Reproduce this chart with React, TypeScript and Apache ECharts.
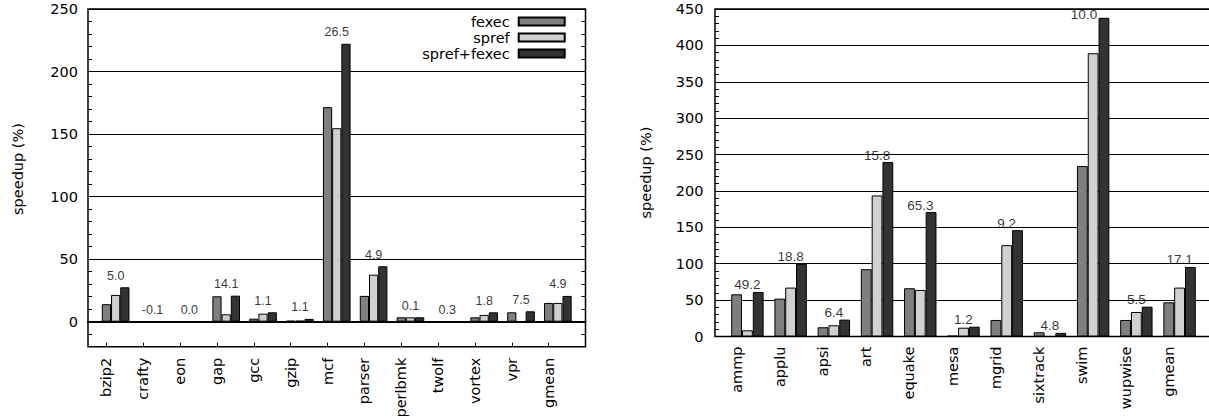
import React, { useEffect, useRef } from 'react';
import * as echarts from 'echarts';

// ---------- data ----------
const seriesNames = ['fexec', 'spref', 'spref+fexec'];

const intCategories = ['bzip2', 'crafty', 'eon', 'gap', 'gcc', 'gzip', 'mcf', 'parser', 'perlbmk', 'twolf', 'vortex', 'vpr', 'gmean'];
const intFexec = [14, 0, 0, 20.3, 2.4, 0.8, 171.5, 20.6, 3.5, 0, 3.5, 7.5, 15];
const intSpref = [21.4, 0, 0, 5.9, 6.4, 0.8, 154.7, 37.6, 3.5, 0, 5.4, 0, 15];
const intBoth = [27.5, 0, 0, 20.8, 7.5, 2.2, 222.2, 44.3, 3.5, 0, 7.5, 8.3, 20.6];
const intLabels = ['5.0', '-0.1', '0.0', '14.1', '1.1', '1.1', '26.5', '4.9', '0.1', '0.3', '1.8', '7.5', '4.9'];

const fpCategories = ['ammp', 'applu', 'apsi', 'art', 'equake', 'mesa', 'mgrid', 'sixtrack', 'swim', 'wupwise', 'gmean'];
const fpFexec = [58, 52, 12.7, 92.5, 66.3, 1, 22.7, 5.8, 234.2, 22.7, 47];
const fpSpref = [8.5, 67.2, 15.4, 193.8, 64, 12.1, 125.5, 0, 389.2, 33.7, 67.2];
const fpBoth = [61.2, 99.8, 23.2, 239.7, 170.9, 13.5, 146.1, 5, 437.9, 41, 95.6];
const fpLabels = ['49.2', '18.8', '6.4', '15.8', '65.3', '1.2', '9.2', '4.8', '10.0', '5.5', '17.1'];

const yTitle = 'speedup (%)';

// ---------- styles ----------
const barColors = ['#7f7f7f', '#d0d0d0', '#333333'];
const AXIS_TEXT = { fontFamily: 'DejaVu Sans', fontSize: 14.5, color: '#000000' };

type PanelCfg = {
  left: number; top: number; width: number; height: number;
  cats: string[]; fexec: number[]; spref: number[]; both: number[]; labels: string[];
  yMin: number; yMax: number;
  zeroLine: boolean; xTicks: boolean; rightTicks: boolean;
  yLabelMargin: number; xLabelMargin: number;
  labelFont: number; labelDist: number;
  specialLeft?: string;
};

function panel(cfg: PanelCfg, g0: number, x0: number, y0: number) {
  const n = cfg.cats.length;
  const band = cfg.width / (n + 0.5);
  const bw = band / 4;
  const innerW = band * n;
  const base = { top: cfg.top, height: cfg.height, outerBoundsMode: 'none', containLabel: false };
  const grids = [
    { ...base, left: cfg.left, width: cfg.width, show: true, borderColor: '#000', borderWidth: 1.5, backgroundColor: 'transparent' },
    { ...base, left: cfg.left, width: innerW },
    { ...base, left: cfg.left + bw, width: innerW },
  ];
  const xAxes: any[] = [
    {
      gridIndex: g0, type: 'category', data: [''], position: 'bottom',
      show: cfg.zeroLine,
      axisLine: { show: true, onZero: true, lineStyle: { color: '#000', width: 2 } },
      axisTick: { show: false }, axisLabel: { show: false }, splitLine: { show: false },
    },
    {
      gridIndex: g0 + 1, type: 'category', data: cfg.cats, position: 'bottom',
      axisLine: { show: false, onZero: false },
      axisTick: { show: cfg.xTicks, alignWithLabel: true, inside: true, length: 4, lineStyle: { color: '#000', width: 1 } },
      axisLabel: { ...AXIS_TEXT, rotate: 90, margin: cfg.xLabelMargin, interval: 0 },
      splitLine: { show: false },
    },
    { gridIndex: g0 + 2, type: 'category', data: cfg.cats, position: 'bottom', show: false, axisLine: { onZero: false } },
  ];
  const yAxes: any[] = [
    {
      gridIndex: g0, type: 'value', position: 'left', min: cfg.yMin, max: cfg.yMax,
      minInterval: 50, maxInterval: 50,
      axisLine: { show: false }, axisTick: { show: false },
      axisLabel: { ...AXIS_TEXT, margin: cfg.yLabelMargin, showMinLabel: cfg.yMin >= 0, formatter: (v: number) => (v < 0 ? '' : String(v)) },
      splitLine: { show: true, lineStyle: { color: '#000', width: 1 } },
    },
    {
      gridIndex: g0, type: 'value', position: 'left', min: cfg.yMin, max: cfg.yMax, interval: 10,
      axisLine: { show: false }, axisLabel: { show: false }, splitLine: { show: false },
      axisTick: { show: true, inside: true, length: 4, lineStyle: { color: '#000', width: 1 } },
    },
    {
      gridIndex: g0, type: 'value', position: 'right', min: cfg.yMin, max: cfg.yMax, interval: 10,
      axisLine: { show: false }, axisLabel: { show: false }, splitLine: { show: false },
      axisTick: { show: cfg.rightTicks, inside: true, length: 4, lineStyle: { color: '#000', width: 1 } },
    },
    { gridIndex: g0 + 1, type: 'value', position: 'left', min: cfg.yMin, max: cfg.yMax, show: false },
    { gridIndex: g0 + 2, type: 'value', position: 'left', min: cfg.yMin, max: cfg.yMax, show: false },
  ];
  const vals = [cfg.fexec, cfg.spref, cfg.both];
  const series: any[] = vals.map((d, k) => ({
    type: 'bar', name: seriesNames[k], xAxisIndex: x0 + 2, yAxisIndex: y0 + 4,
    data: d, barWidth: bw, barGap: '0%', silent: true,
    itemStyle: { color: barColors[k], borderColor: '#000', borderWidth: 1 },
  }));
  series.push({
    type: 'scatter', xAxisIndex: x0 + 2, yAxisIndex: y0 + 4, symbolSize: 0.01, silent: true, z: 5,
    itemStyle: { color: '#000000' },
    label: {
      show: true, position: 'top', distance: cfg.labelDist,
      fontFamily: 'Liberation Sans', fontSize: cfg.labelFont, color: '#000000', textBorderWidth: 0,
      formatter: (p: any) => cfg.labels[p.dataIndex],
    },
    data: cfg.cats.map((c, i) => {
      const v = Math.max(cfg.fexec[i], cfg.spref[i], cfg.both[i]);
      if (c === cfg.specialLeft) {
        return { value: v, label: { position: 'left', distance: 0, offset: [4, -3] } };
      }
      return v;
    }),
  });
  return { grids, xAxes, yAxes, series };
}

function yTitleText(x: number, y: number) {
  return {
    type: 'text', x, y, rotation: Math.PI / 2, silent: true,
    style: {
      text: yTitle, align: 'center', verticalAlign: 'middle',
      fontFamily: AXIS_TEXT.fontFamily, fontSize: AXIS_TEXT.fontSize, fill: '#000000',
    },
  };
}

export default function App() {
  const ref = useRef<HTMLDivElement>(null);
  useEffect(() => {
    if (!ref.current) return;
    const chart = echarts.init(ref.current, null, { renderer: 'svg' });
    const leftP = panel({
      left: 88, top: 9, width: 497.5, height: 337.7,
      cats: intCategories, fexec: intFexec, spref: intSpref, both: intBoth, labels: intLabels,
      yMin: -20, yMax: 250, zeroLine: true, xTicks: true, rightTicks: true,
      yLabelMargin: 10, xLabelMargin: 11, labelFont: 12.5, labelDist: 5,
    }, 0, 0, 0);
    const rightP = panel({
      left: 715, top: 9, width: 497, height: 327.5,
      cats: fpCategories, fexec: fpFexec, spref: fpSpref, both: fpBoth, labels: fpLabels,
      yMin: 0, yMax: 450, zeroLine: false, xTicks: false, rightTicks: false,
      yLabelMargin: 11.5, xLabelMargin: 10, labelFont: 13.5, labelDist: 0,
      specialLeft: 'swim',
    }, 3, 3, 5);
    chart.setOption({
      animation: false,
      grid: [...leftP.grids, ...rightP.grids],
      xAxis: [...leftP.xAxes, ...rightP.xAxes],
      yAxis: [...leftP.yAxes, ...rightP.yAxes],
      legend: {
        orient: 'vertical', right: 1209 - 565.7, top: 14, align: 'right', padding: 0,
        itemWidth: 46, itemHeight: 8, itemGap: 1, icon: 'rect', selectedMode: false,
        data: seriesNames,
        textStyle: { ...AXIS_TEXT, padding: [0, 4, 0, 0] },
      },
      graphic: [yTitleText(17.5, 169), yTitleText(646, 172.5)],
      series: [...leftP.series, ...rightP.series],
    });
    return () => chart.dispose();
  }, []);
  return <div ref={ref} style={{ position: 'absolute', left: 0, top: 0, width: 1209, height: 416 }} />;
}
